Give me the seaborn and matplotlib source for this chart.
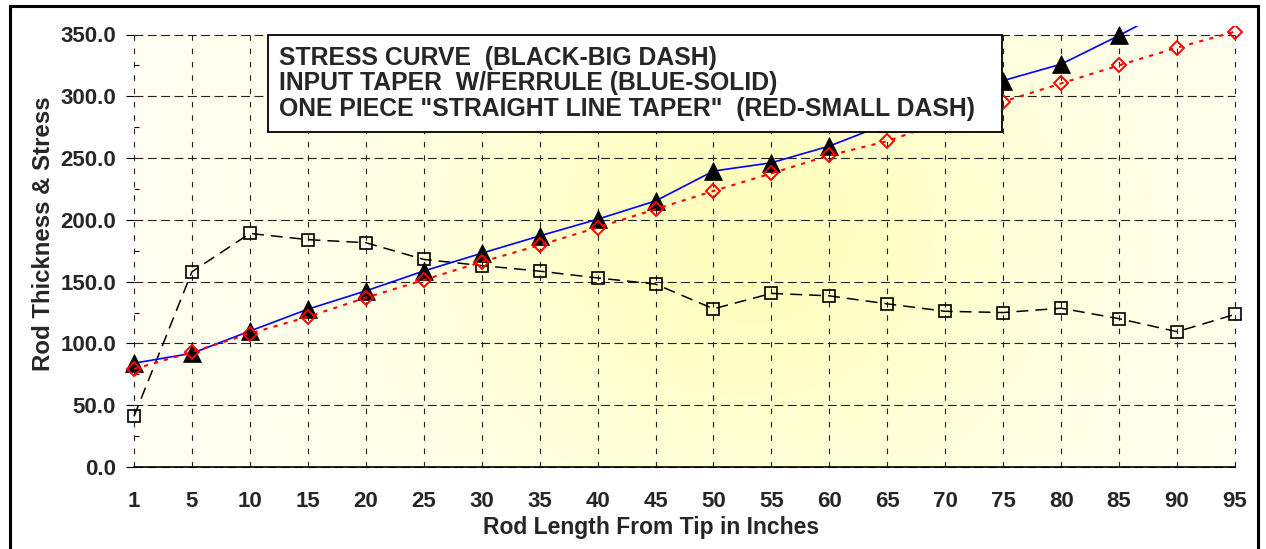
import numpy as np
import pandas as pd
import matplotlib
matplotlib.use("Agg")
import matplotlib.pyplot as plt
import seaborn as sns
from matplotlib import font_manager as fm
from matplotlib.lines import Line2D
from matplotlib.patches import Rectangle
from matplotlib.ticker import MultipleLocator, FormatStrFormatter, FixedLocator, FixedFormatter

# ---------------- data ----------------
categories = [1, 5, 10, 15, 20, 25, 30, 35, 40, 45, 50, 55, 60, 65, 70, 75, 80, 85, 90, 95]
stress_curve = [41, 158, 189, 184, 181.5, 168, 163, 158.5, 153, 148, 128, 140.5,
                138.5, 132, 126, 125, 128.5, 120, 109.5, 123.5]
input_taper = [84, 92, 110, 127.7, 142.5, 158.6, 173, 187, 200.5, 215.3, 239.5, 246.2,
               259.7, 278, 296, 312.7, 326, 349.2, 374, 395]
straight_taper = [79.3, 93, 108, 121.5, 137, 151.3, 166, 179.5, 193.8, 208.6, 223.4, 237.6,
                  252.2, 263.7, 280, 295.7, 310.4, 325.1, 339.3, 352.3]
series_labels = ['STRESS CURVE  (BLACK-BIG DASH)',
                 'INPUT TAPER  W/FERRULE (BLUE-SOLID)',
                 'ONE PIECE "STRAIGHT LINE TAPER"  (RED-SMALL DASH)']
x_label = 'Rod Length From Tip in Inches'
y_label = 'Rod Thickness & Stress'

sns.set_theme(style="white")

# pick a family that really has a bold face installed
pref = ['Liberation Sans', 'Arimo', 'Arial', 'Roboto', 'Open Sans', 'Noto Sans', 'Lato', 'DejaVu Sans']
bold_names = set()
for f in fm.fontManager.ttflist:
    w = f.weight
    if isinstance(w, str):
        w = {'bold': 700, 'heavy': 800, 'black': 900, 'semibold': 600, 'demibold': 600,
             'extra bold': 800, 'ultrabold': 800}.get(w.lower(), 400)
    if w >= 600 and f.style == 'normal' and 'Narrow' not in f.fname and 'Condensed' not in f.fname:
        bold_names.add(f.name)
family = next((p for p in pref if p in bold_names), 'DejaVu Sans')
scale = 0.9 if family == 'DejaVu Sans' else 1.0

plt.rcParams['font.family'] = [family, 'DejaVu Sans']
plt.rcParams['font.weight'] = 'bold'

W, H = 1266, 549
fig = plt.figure(figsize=(W / 100, H / 100), dpi=100)
fig.patch.set_facecolor('white')
ax = fig.add_axes([134 / W, (H - 467) / H, (1235 - 134) / W, (467 - 34.5) / H])

pos = np.arange(len(categories))
df = pd.DataFrame({'pos': pos, 'stress': stress_curve,
                   'taper': input_taper, 'straight': straight_taper})

# background gradient
ny, nx = 200, 400
gx, gy = np.meshgrid(np.linspace(0, 1, nx), np.linspace(0, 1, ny))
t = np.exp(-(((gx - 0.56) / 0.30) ** 2 + ((gy - 0.55) / 0.70) ** 2))
edge = np.array([255, 255, 242]) / 255
center = np.array([255, 254, 190]) / 255
img = edge[None, None, :] + (center - edge)[None, None, :] * t[:, :, None]
ax.imshow(img, extent=[0, 1, 0, 1], transform=ax.transAxes, origin='lower',
          aspect='auto', zorder=0, interpolation='bilinear')

# series
sns.lineplot(data=df, x='pos', y='stress', ax=ax, color='black', linewidth=1.1,
             linestyle=(0, (7.8, 4.6)), marker='s', markersize=8.5,
             markerfacecolor='none', markeredgecolor='black', markeredgewidth=1.2,
             errorbar=None, zorder=3)
sns.lineplot(data=df, x='pos', y='taper', ax=ax, color='#0000FF', linewidth=1.2,
             marker='^', markersize=13, markerfacecolor='black', markeredgecolor='black',
             markeredgewidth=0.5, errorbar=None, zorder=4)
sns.lineplot(data=df, x='pos', y='straight', ax=ax, color='#FF0000', linewidth=1.5,
             linestyle=(0, (2, 3)), marker='D', markersize=7,
             markerfacecolor='none', markeredgecolor='#FF0000', markeredgewidth=1.4,
             errorbar=None, zorder=5)

ax.set_xlim(0, len(categories) - 1)
ax.set_ylim(0, 350)

clip = Rectangle((-0.02, 0), 1.04, 1.02, transform=ax.transAxes, facecolor='none', edgecolor='none')
ax.add_patch(clip)
for ln in ax.lines:
    ln.set_clip_path(clip)

# axes styling
for s in ['top', 'right', 'left']:
    ax.spines[s].set_visible(False)
ax.spines['bottom'].set_color('black')
ax.spines['bottom'].set_linewidth(1.2)
ax.spines['bottom'].set_zorder(6)

ax.xaxis.set_major_locator(FixedLocator(pos))
ax.xaxis.set_major_formatter(FixedFormatter([str(c) for c in categories]))
ax.yaxis.set_major_locator(MultipleLocator(50))
ax.yaxis.set_minor_locator(MultipleLocator(25))
ax.yaxis.set_major_formatter(FormatStrFormatter('%.1f'))

ax.tick_params(axis='x', length=0, pad=17, labelsize=16 * scale)
ax.tick_params(axis='y', which='major', direction='out', length=6, width=0.8,
               color='black', pad=7, labelsize=16 * scale, left=True)
ax.tick_params(axis='y', which='minor', direction='in', length=3.6, width=0.8,
               color='black', left=True)
for lab in ax.get_xticklabels() + ax.get_yticklabels():
    lab.set_fontweight('bold')

ax.xaxis.grid(True, linestyle=(0, (5, 7)), color='#222222', linewidth=0.8, zorder=1)
ax.yaxis.grid(True, linestyle=(0, (8, 4)), color='#222222', linewidth=0.8, zorder=1)
for gl in ax.get_xgridlines() + ax.get_ygridlines():
    gl.set_clip_on(False)

ax.set_xlabel(x_label, fontsize=16.5 * scale, fontweight='bold')
ax.set_ylabel(y_label, fontsize=17.3 * scale, fontweight='bold')
ax.xaxis.set_label_coords(0.4696, -0.1125)
ax.yaxis.set_label_coords(-0.0718, 0.539)

# legend (text only)
handles = [Line2D([], [], linestyle='none', marker=None) for _ in series_labels]
leg = ax.legend(handles, series_labels, loc='upper left',
                bbox_to_anchor=(0.1217, 0.0, (1002 - 268) / 1101, 1.0), mode='expand',
                borderaxespad=0, handlelength=0, handletextpad=0, labelspacing=0.06,
                borderpad=0.45, frameon=True, fancybox=False, shadow=False,
                prop={'size': 17.8 * scale, 'weight': 'bold'})
leg.get_frame().set_edgecolor('black')
leg.get_frame().set_linewidth(1.3)
leg.get_frame().set_facecolor('white')
leg.get_frame().set_alpha(1)
leg.set_zorder(10)

# outer chart border
border = Rectangle((10 / W, -0.1), (1258 - 10) / W, (H - 6) / H + 0.1,
                   transform=fig.transFigure, fill=False, edgecolor='black',
                   linewidth=2.2, clip_on=False)
fig.patches.append(border)

fig.savefig('out.png', dpi=100, facecolor='white')
